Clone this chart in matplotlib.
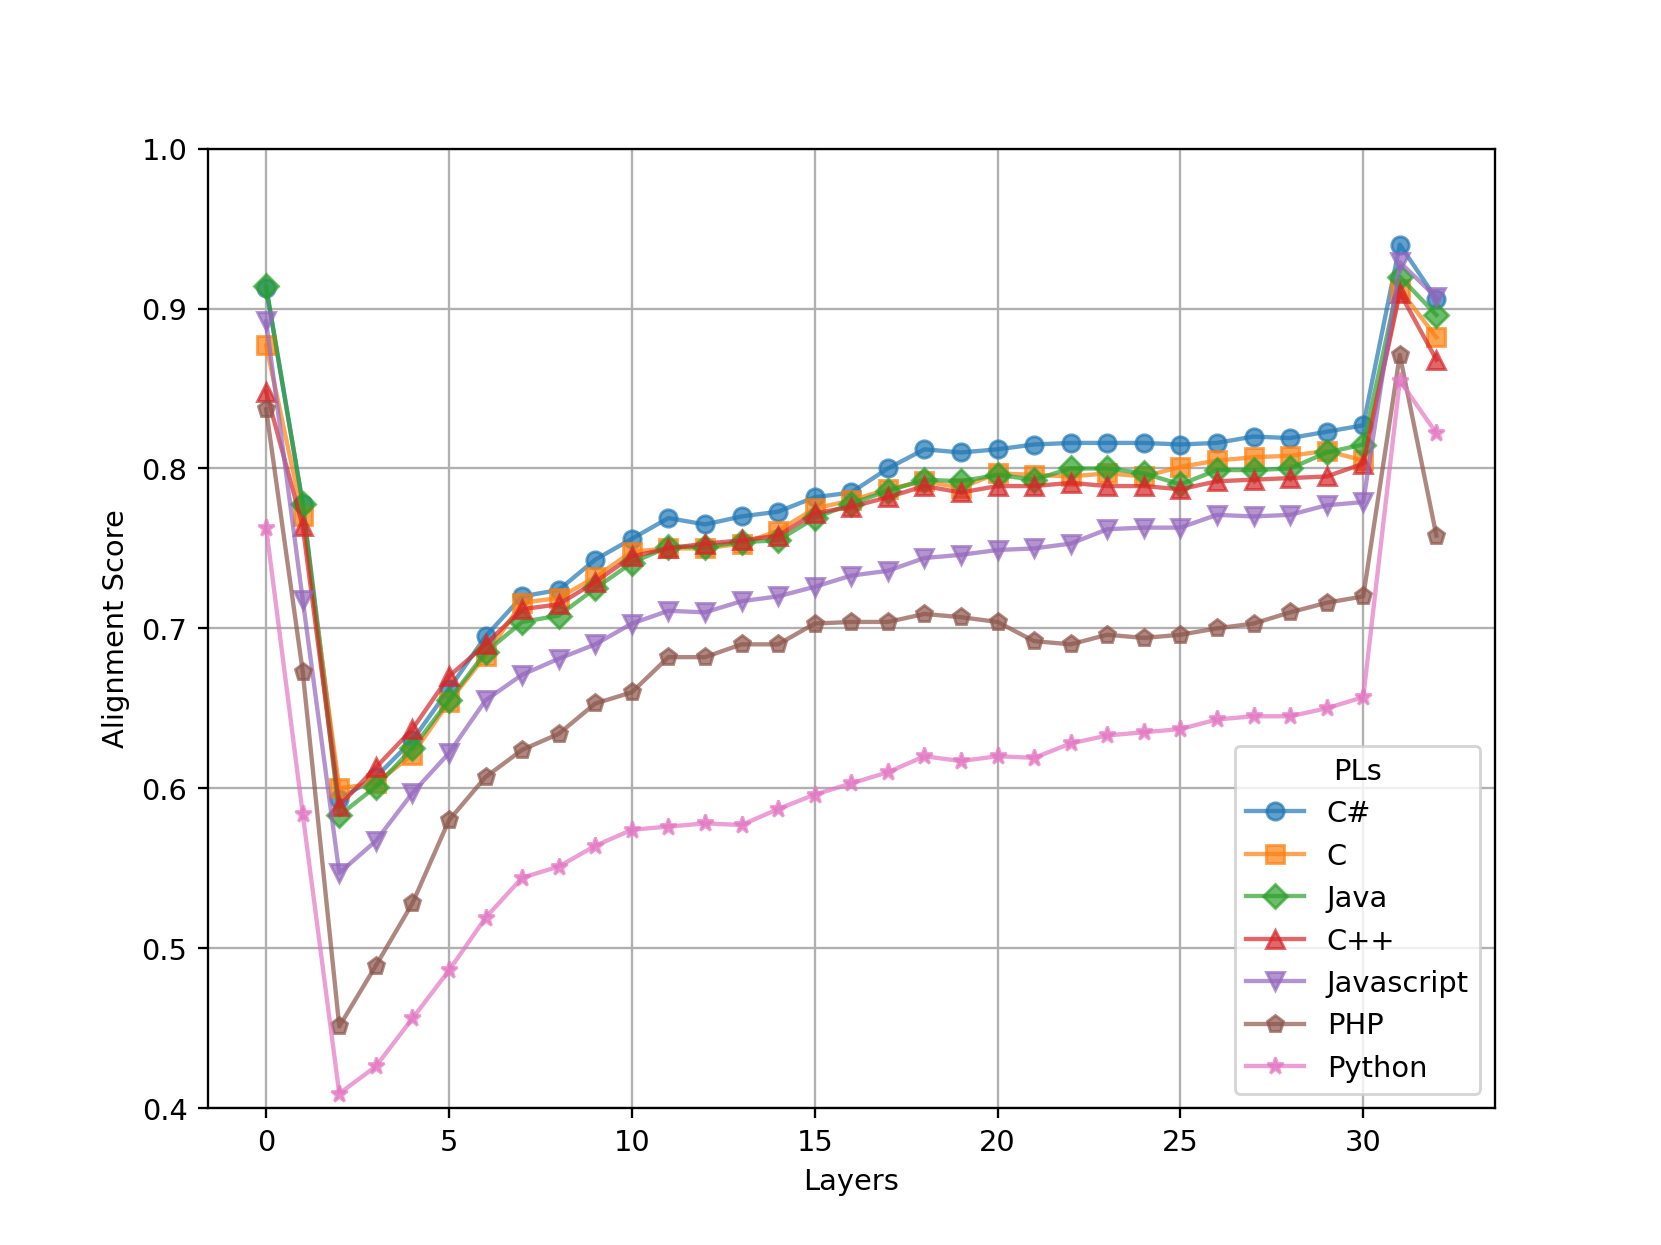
import matplotlib
matplotlib.use('Agg')
import matplotlib.pyplot as plt

# 每层的对齐分数
layers = list(range(33))

csharp = [0.913, 0.778, 0.593, 0.607, 0.630, 0.662, 0.695, 0.720, 0.724, 0.743, 0.756,
          0.769, 0.765, 0.770, 0.773, 0.782, 0.785, 0.800, 0.812, 0.810, 0.812, 0.815,
          0.816, 0.816, 0.816, 0.815, 0.816, 0.820, 0.819, 0.823, 0.827, 0.940, 0.906]
c = [0.877, 0.770, 0.600, 0.603, 0.621, 0.654, 0.683, 0.716, 0.719, 0.732, 0.748,
     0.750, 0.750, 0.753, 0.761, 0.775, 0.780, 0.787, 0.792, 0.788, 0.797, 0.796,
     0.795, 0.797, 0.795, 0.801, 0.805, 0.807, 0.808, 0.811, 0.805, 0.912, 0.882]
java = [0.914, 0.778, 0.583, 0.601, 0.625, 0.655, 0.685, 0.704, 0.708, 0.725, 0.741,
        0.751, 0.751, 0.754, 0.755, 0.769, 0.778, 0.786, 0.793, 0.792, 0.796, 0.793,
        0.800, 0.800, 0.797, 0.790, 0.799, 0.799, 0.800, 0.810, 0.815, 0.920, 0.896]
cpp = [0.848, 0.764, 0.589, 0.613, 0.637, 0.670, 0.690, 0.712, 0.715, 0.729, 0.745,
       0.750, 0.753, 0.755, 0.758, 0.772, 0.776, 0.782, 0.789, 0.785, 0.789, 0.789,
       0.791, 0.789, 0.789, 0.787, 0.792, 0.793, 0.794, 0.795, 0.803, 0.910, 0.868]
javascript = [0.892, 0.718, 0.547, 0.567, 0.597, 0.622, 0.655, 0.671, 0.681, 0.690, 0.703,
              0.711, 0.710, 0.717, 0.720, 0.726, 0.733, 0.736, 0.744, 0.746, 0.749, 0.750,
              0.753, 0.762, 0.763, 0.763, 0.771, 0.770, 0.771, 0.777, 0.779, 0.929, 0.907]
php = [0.837, 0.673, 0.451, 0.489, 0.528, 0.580, 0.607, 0.624, 0.634, 0.653, 0.660,
       0.682, 0.682, 0.690, 0.690, 0.703, 0.704, 0.704, 0.709, 0.707, 0.704, 0.692,
       0.690, 0.696, 0.694, 0.696, 0.700, 0.703, 0.710, 0.716, 0.720, 0.871, 0.758]
python = [0.763, 0.584, 0.409, 0.426, 0.456, 0.486, 0.519, 0.544, 0.551, 0.564, 0.574,
          0.576, 0.578, 0.577, 0.587, 0.596, 0.603, 0.610, 0.620, 0.617, 0.620, 0.619,
          0.628, 0.633, 0.635, 0.637, 0.643, 0.645, 0.645, 0.650, 0.657, 0.855, 0.822]

names = ['C#', 'C', 'Java', 'C++', 'Javascript', 'PHP', 'Python']
series = [csharp, c, java, cpp, javascript, php, python]
markers = ['o', 's', 'D', '^', 'v', 'p', '*']

plt.figure(figsize=(8, 6), dpi=1661 / 8)

for name, vals, m in zip(names, series, markers):
    plt.plot(layers, vals, marker=m, alpha=0.7, label=name)

plt.xlabel('Layers')
plt.ylabel('Alignment Score')
plt.ylim(0.4, 1.0)
plt.grid(True)
plt.legend(title='PLs', loc='lower right')

plt.savefig('out.png', dpi=1661 / 8)
